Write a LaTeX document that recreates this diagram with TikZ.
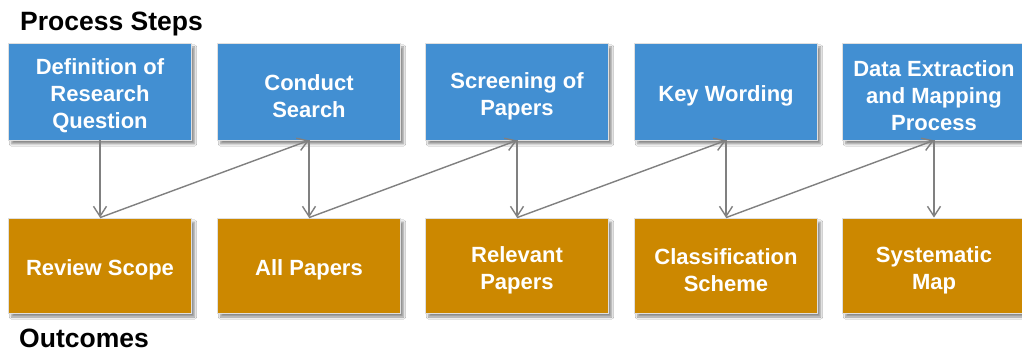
\documentclass[tikz,border=0pt]{standalone}
\usepackage{fontspec}
\setmainfont{Liberation Sans}
\usetikzlibrary{arrows.meta,shadows.blur}
\definecolor{stepblue}{RGB}{66,143,210}
\definecolor{outgold}{RGB}{204,136,0}
\definecolor{linkgray}{RGB}{128,128,128}
\tikzset{
  box/.style={minimum width=183pt, inner sep=0pt,
    draw=white!75!gray, line width=0.8pt,
    blur shadow={shadow xshift=3pt, shadow yshift=-4pt, shadow blur steps=8, shadow opacity=45}},
  boxtext/.style={align=center, inner sep=0pt, yshift=-4.5pt, text=white,
    font=\fontsize{22}{27}\selectfont\bfseries},
  stepbox/.style={box, fill=stepblue, minimum height=97pt},
  outbox/.style={box, fill=outgold, minimum height=95pt},
  link/.style={draw=linkgray, line width=1.4pt,
    -{Straight Barb[length=10pt,width=13pt,line width=1.4pt]}},
  heading/.style={anchor=base west, inner sep=0pt, text=black,
    font=\fontsize{26.5}{30}\selectfont\bfseries}
}
\begin{document}
\begin{tikzpicture}[x=1pt,y=1pt]
  \useasboundingbox (0,0) rectangle (1022,-352);
  \fill[white] (0,0) rectangle (1022,-352);

  % headings
  \node[heading] (steps) at (20,-31) {Process Steps};
  \node[heading] (outs) at (19,-347) {Outcomes};

  % process steps
  \node[stepbox, label={[boxtext]center:Definition of\\Research\\Question}] (s1) at (100,-91.5) {};
  \node[stepbox, label={[boxtext]center:Conduct\\Search}] (s2) at (309,-91.5) {};
  \node[stepbox, label={[boxtext]center:Screening of\\Papers}] (s3) at (517,-91.5) {};
  \node[stepbox, label={[boxtext]center:Key Wording}] (s4) at (726,-91.5) {};
  \node[stepbox, label={[boxtext]center:Data Extraction\\and Mapping\\Process}] (s5) at (934,-91.5) {};

  % outcomes
  \node[outbox, label={[boxtext]center:Review Scope}] (o1) at (100,-265.5) {};
  \node[outbox, label={[boxtext]center:All Papers}] (o2) at (309,-265.5) {};
  \node[outbox, label={[boxtext]center:Relevant\\Papers}] (o3) at (517,-265.5) {};
  \node[outbox, label={[boxtext]center:Classification\\Scheme}] (o4) at (726,-265.5) {};
  \node[outbox, label={[boxtext]center:Systematic\\Map}] (o5) at (934,-265.5) {};

  % step -> outcome
  \foreach \i in {1,...,5}
    \draw[link] (s\i.south) -- (o\i.north);

  % outcome -> next step
  \draw[link] (o1.north) -- (s2.south);
  \draw[link] (o2.north) -- (s3.south);
  \draw[link] (o3.north) -- (s4.south);
  \draw[link] (o4.north) -- (s5.south);
\end{tikzpicture}
\end{document}
